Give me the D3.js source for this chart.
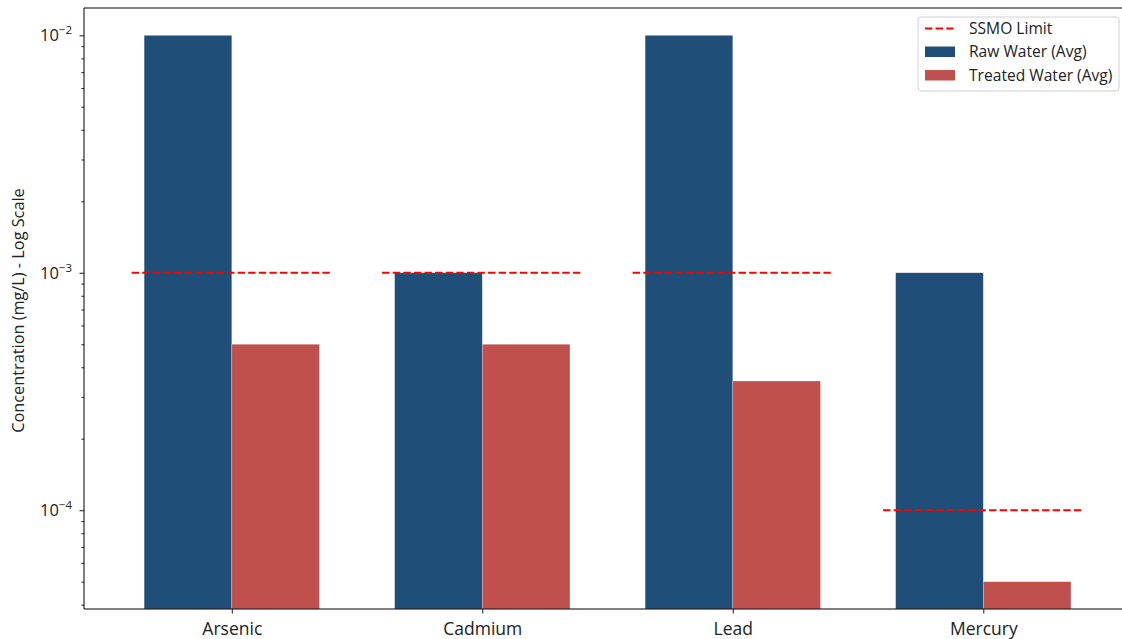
<!DOCTYPE html>
<html>
<head>
<meta charset="utf-8">
<script src="https://cdn.jsdelivr.net/npm/d3@7"></script>
<style>
  html, body { margin: 0; padding: 0; background: #fff; }
  svg { display: block; font-family: "Open Sans", Roboto, sans-serif; }
</style>
</head>
<body>
<svg id="chart" width="1122" height="639"></svg>
<script>
// Heavy-metal concentrations per element (mg/L)
const metals = ["Arsenic", "Cadmium", "Lead", "Mercury"];
const rawWater = [1e-2, 1e-3, 1e-2, 1e-3];
const treatedWater = [5e-4, 5e-4, 3.5e-4, 5e-5];
const ssmoLimit = [1e-3, 1e-3, 1e-3, 1e-4];
const yTickValues = [1e-4, 1e-3, 1e-2];
const yTickLabels = ["10", "10", "10"];
const yTickExponents = ["\u22124", "\u22123", "\u22122"];
const legendLabels = ["SSMO Limit", "Raw Water (Avg)", "Treated Water (Avg)"];

const colors = { raw: "#1f4e79", treated: "#c0504d", limit: "#ff0000" };
const font = "'Open Sans', Roboto, sans-serif";

const svg = d3.select("#chart");
const plot = { left: 84, top: 8, bottom: 609 };

const barWidth = 0.35;
const limitHalf = 0.4;

// x: category index on a linear axis with 5% padding around the drawn extent
const xLo = -limitHalf, xHi = metals.length - 1 + limitHalf;
const xPad = (xHi - xLo) * 0.05;
const unitPx = 250.5;
const x = d3.scaleLinear()
  .domain([xLo - xPad, xHi + xPad])
  .range([plot.left, plot.left + unitPx * (xHi - xLo + 2 * xPad)]);

// y: log scale with 5% padding in log space
const allVals = rawWater.concat(treatedWater);
const lmin = Math.log10(d3.min(allVals)), lmax = Math.log10(d3.max(allVals));
const lpad = (lmax - lmin) * 0.05;
const y = d3.scaleLog()
  .domain([Math.pow(10, lmin - lpad), Math.pow(10, lmax + lpad)])
  .range([plot.bottom, plot.top]);

const plotRight = x.range()[1];

const g = svg.append("g");

// Bars
g.selectAll("rect.raw").data(rawWater).join("rect")
  .attr("class", "raw")
  .attr("x", (d, i) => x(i - barWidth))
  .attr("width", (d, i) => x(i) - x(i - barWidth))
  .attr("y", d => y(d))
  .attr("height", d => plot.bottom - y(d))
  .attr("fill", colors.raw)
  .attr("stroke", "rgba(255,255,255,0.45)")
  .attr("stroke-width", 0.6);

g.selectAll("rect.treated").data(treatedWater).join("rect")
  .attr("class", "treated")
  .attr("x", (d, i) => x(i))
  .attr("width", (d, i) => x(i + barWidth) - x(i))
  .attr("y", d => y(d))
  .attr("height", d => plot.bottom - y(d))
  .attr("fill", colors.treated)
  .attr("stroke", "rgba(255,255,255,0.45)")
  .attr("stroke-width", 0.6);

// SSMO limit segments
g.selectAll("line.limit").data(ssmoLimit).join("line")
  .attr("class", "limit")
  .attr("x1", (d, i) => x(i - limitHalf))
  .attr("x2", (d, i) => x(i + limitHalf))
  .attr("y1", d => y(d))
  .attr("y2", d => y(d))
  .attr("stroke", colors.limit)
  .attr("stroke-width", 2)
  .attr("stroke-dasharray", "7.4,3.2");

// Spines
g.append("line").attr("x1", plot.left).attr("x2", plotRight)
  .attr("y1", plot.top).attr("y2", plot.top)
  .attr("stroke", "#000").attr("stroke-width", 1);
g.append("line").attr("x1", plot.left).attr("x2", plotRight)
  .attr("y1", plot.bottom).attr("y2", plot.bottom)
  .attr("stroke", "#000").attr("stroke-width", 1);
g.append("line").attr("x1", plot.left).attr("x2", plot.left)
  .attr("y1", plot.top).attr("y2", plot.bottom)
  .attr("stroke", "#000").attr("stroke-width", 1);

// Y axis: major ticks with power-of-ten labels, minor ticks in between
const [d0, d1] = y.domain();
const minorTicks = [];
for (let e = Math.floor(Math.log10(d0)); e <= Math.ceil(Math.log10(d1)); e++) {
  for (let m = 2; m <= 9; m++) {
    const v = m * Math.pow(10, e);
    if (v >= d0 && v <= d1) minorTicks.push(v);
  }
}
const yAxisMinor = d3.axisLeft(y).tickValues(minorTicks).tickSize(2.5).tickFormat("");
const yAxisMajor = d3.axisLeft(y).tickValues(yTickValues).tickSize(4.5).tickFormat("");

const ga1 = svg.append("g").attr("transform", `translate(${plot.left},0)`).call(yAxisMinor);
const ga2 = svg.append("g").attr("transform", `translate(${plot.left},0)`).call(yAxisMajor);
[ga1, ga2].forEach(a => {
  a.select(".domain").remove();
  a.selectAll(".tick line").attr("stroke", "#000").attr("stroke-width", 0.9);
});

const yLab = svg.append("g");
yTickValues.forEach((v, i) => {
  const t = yLab.append("text")
    .attr("x", 72).attr("y", y(v) + 6)
    .attr("text-anchor", "end")
    .attr("font-size", 16.5).attr("fill", "#222");
  t.append("tspan").text(yTickLabels[i]);
  t.append("tspan").attr("font-size", 11.5).attr("dy", -7).text(yTickExponents[i]);
});

// X axis ticks and labels
const xAxis = d3.axisBottom(x).tickValues(d3.range(metals.length))
  .tickSize(4.5).tickFormat((d) => metals[d]);
const gx = svg.append("g").attr("transform", `translate(0,${plot.bottom})`).call(xAxis);
gx.select(".domain").remove();
gx.selectAll(".tick line").attr("stroke", "#000").attr("stroke-width", 0.9);
gx.selectAll(".tick text").attr("font-size", 17.5).attr("fill", "#222")
  .attr("font-family", font).attr("dy", "1.05em");

// Y axis title
svg.append("text")
  .attr("transform", `translate(24,${(plot.top + plot.bottom) / 2 + 2}) rotate(-90)`)
  .attr("text-anchor", "middle")
  .attr("font-size", 16.3).attr("fill", "#222")
  .text("Concentration (mg/L) - Log Scale");

// Legend
const lg = svg.append("g").attr("transform", "translate(918,17)");
lg.append("rect").attr("x", 0).attr("y", 0).attr("width", 201).attr("height", 74)
  .attr("rx", 3).attr("fill", "rgba(255,255,255,0.8)")
  .attr("stroke", "#d0d0d0").attr("stroke-width", 1);
const rowY = [11.5, 34.5, 58];
lg.append("line").attr("x1", 7).attr("x2", 37).attr("y1", rowY[0]).attr("y2", rowY[0])
  .attr("stroke", colors.limit).attr("stroke-width", 2).attr("stroke-dasharray", "7.4,3.2");
lg.append("rect").attr("x", 7).attr("y", rowY[1] - 5).attr("width", 30).attr("height", 10.5)
  .attr("fill", colors.raw);
lg.append("rect").attr("x", 7).attr("y", rowY[2] - 5).attr("width", 30).attr("height", 10.5)
  .attr("fill", colors.treated);
legendLabels.forEach((l, i) => {
  lg.append("text").attr("x", 51).attr("y", rowY[i] + 5.5)
    .attr("font-size", 15.6).attr("fill", "#222").text(l);
});
</script>
</body>
</html>
